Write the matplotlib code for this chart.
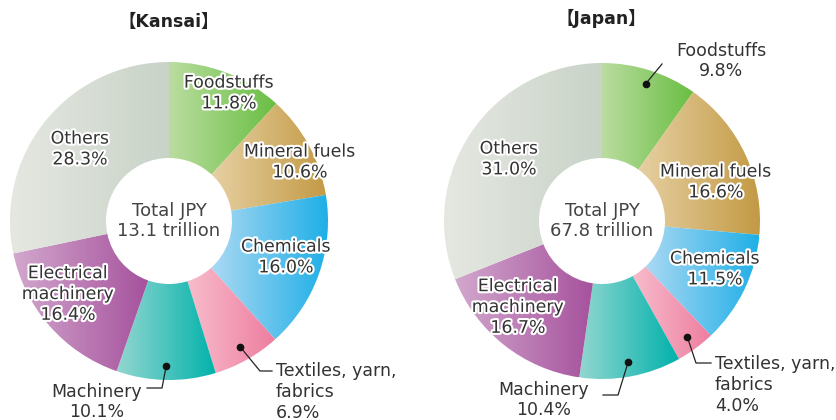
import matplotlib
matplotlib.use("Agg")
import matplotlib.pyplot as plt
import matplotlib.patheffects as pe
import numpy as np
from matplotlib.colors import to_rgb
from matplotlib.patches import Wedge

W, H = 836, 420

CATEGORIES = ["Foodstuffs", "Mineral fuels", "Chemicals", "Textiles, yarn,\nfabrics",
              "Machinery", "Electrical\nmachinery", "Others"]
KANSAI = [11.8, 10.6, 16.0, 6.9, 10.1, 16.4, 28.3]
JAPAN = [9.8, 16.6, 11.5, 4.0, 10.4, 16.7, 31.0]
TITLES = ["【Kansai】", "【Japan】"]
TOTALS = ["13.1", "67.8"]

LIGHT = ["#badd9f", "#e6d0a2", "#abd9f3", "#f7bccb", "#93d7d0", "#d2a8cd", "#e5e8e1"]
DARK = ["#69be43", "#c39a45", "#1fafe7", "#ee7da0", "#00b2ab", "#a6529d", "#c9d3c8"]

TXT = "#333333"
plt.rcParams["font.family"] = ["DejaVu Sans", "Noto Sans CJK JP"]

# layout in pixels from the top-left corner
KANSAI_LAYOUT = {
    "center": (169, 221), "R": 159, "r": 63, "title": (169, 22),
    "labels": {
        0: dict(pos=(229, 93)),
        1: dict(pos=(300, 162)),
        2: dict(pos=(286, 257)),
        3: dict(pos=(276, 392), ha="left", leader=[(260, 371), (272, 371)]),
        4: dict(pos=(97, 402), leader=[(162, 388), (147, 388)]),
        5: dict(pos=(68, 294)),
        6: dict(pos=(80, 149)),
    },
}
JAPAN_LAYOUT = {
    "center": (602, 221), "R": 158, "r": 63, "title": (601, 18),
    "labels": {
        0: dict(pos=(721, 61), leader=[(662, 64)]),
        1: dict(pos=(716, 182)),
        2: dict(pos=(715, 269)),
        3: dict(pos=(715, 385), ha="left", leader=[(696, 363), (711, 363)]),
        4: dict(pos=(544, 400), leader=[(618, 395), (603, 395)]),
        5: dict(pos=(518, 307)),
        6: dict(pos=(509, 159)),
    },
}


def px(x, y):
    return x, H - y


def donut(ax, values, total, title, lay):
    cx, cy = px(*lay["center"])
    R, r = lay["R"], lay["r"]
    tot = sum(values)
    theta = 90.0
    mids = []
    for i, v in enumerate(values):
        span = v / tot * 360.0
        w = Wedge((cx, cy), R, theta - span, theta, width=R - r, fc="none", lw=0)
        ax.add_patch(w)
        ext = w.get_path().get_extents()
        g = np.linspace(0, 1, 256)[None, :, None]
        img = np.array(to_rgb(LIGHT[i]))[None, None, :] * (1 - g) + np.array(to_rgb(DARK[i]))[None, None, :] * g
        im = ax.imshow(img, extent=(ext.x0, ext.x1, ext.y0, ext.y1), aspect="auto",
                       interpolation="bilinear", zorder=1)
        im.set_clip_path(w)
        mids.append(np.radians(theta - span / 2))
        theta -= span

    for i, spec in lay["labels"].items():
        x, y = px(*spec["pos"])
        label = f"{CATEGORIES[i]}\n{values[i]:.1f}%"
        inside = "leader" not in spec
        t = ax.text(x, y, label, ha=spec.get("ha", "center"), va="center",
                    multialignment=spec.get("ha", "center"), fontsize=12.5,
                    color=TXT, linespacing=1.2, zorder=4)
        if inside:
            t.set_path_effects([pe.withStroke(linewidth=3, foreground="white")])
        else:
            a = mids[i]
            dx, dy = cx + 0.91 * R * np.cos(a), cy + 0.91 * R * np.sin(a)
            pts = [(dx, dy)] + [px(*p) for p in spec["leader"]]
            xs, ys = zip(*pts)
            ax.plot(xs, ys, color="#222222", lw=0.9, zorder=3)
            ax.plot([dx], [dy], "o", color="#111111", ms=4.5, zorder=3)

    ax.text(cx, cy, f"Total JPY\n{total} trillion", ha="center", va="center",
            fontsize=13, color="#444444", linespacing=1.2, zorder=4)
    tx, ty = px(*lay["title"])
    ax.text(tx, ty, title, ha="center", va="center", fontsize=12.5, fontweight="bold",
            color="#222222", zorder=4)


fig = plt.figure(figsize=(W / 100, H / 100), dpi=100)
ax = fig.add_axes([0, 0, 1, 1])
donut(ax, KANSAI, TOTALS[0], TITLES[0], KANSAI_LAYOUT)
donut(ax, JAPAN, TOTALS[1], TITLES[1], JAPAN_LAYOUT)
ax.set_xlim(0, W)
ax.set_ylim(0, H)
ax.axis("off")
fig.savefig("out.png", dpi=100, facecolor="white")
